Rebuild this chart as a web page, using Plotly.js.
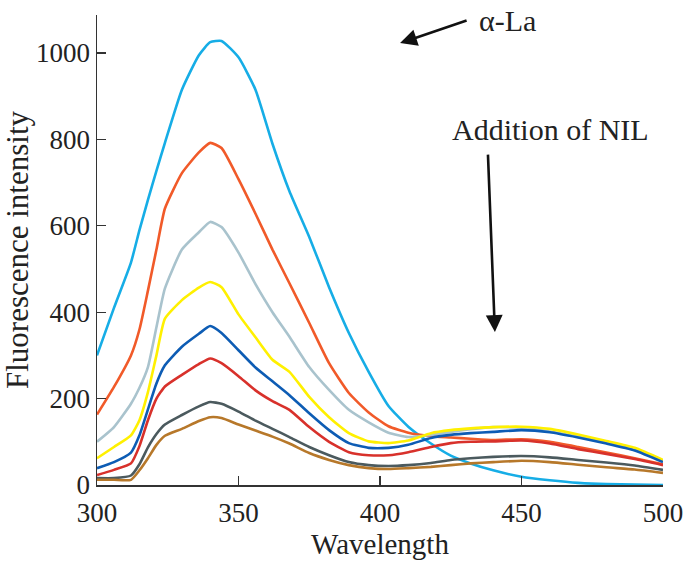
<!DOCTYPE html>
<html>
<head>
<meta charset="utf-8">
<script src="https://cdn.plot.ly/plotly-3.0.1.min.js"></script>
<style>
  html, body { margin: 0; padding: 0; background: #fff; }
  #chart { width: 685px; height: 563px; }
</style>
</head>
<body>
<div id="chart"></div>
<script>
// wavelengths (nm) shared by all spectra
const wavelength = [300, 306, 312, 315, 318, 321, 324, 330, 336, 340, 344, 350, 356, 362, 368, 375, 382, 389, 396, 403, 410, 418, 425, 432, 440, 450, 460, 470, 480, 490, 500];

// alpha-La alone, then increasing NIL
const aLa   = [300, 410, 515, 590, 660, 727, 792, 915, 995, 1025, 1028, 990, 915, 790, 680, 574, 458, 352, 262, 183, 135, 96, 68, 50, 34, 19, 11, 5, 2, 1, 0];
const nil1  = [163, 227, 300, 360, 450, 545, 640, 722, 770, 792, 780, 708, 628, 545, 467, 375, 282, 213, 168, 136, 121, 113, 110, 107, 104, 106, 100, 88, 75, 62, 48];
const nil2  = [100, 134, 188, 225, 273, 365, 455, 545, 585, 609, 597, 538, 465, 400, 343, 273, 220, 174, 145, 121, 111, 116, 123, 129, 134, 132, 124, 112, 98, 82, 56];
const nil3  = [62, 88, 115, 150, 215, 300, 385, 428, 457, 470, 458, 395, 342, 290, 262, 204, 157, 120, 101, 97, 103, 120, 127, 131, 134, 135, 130, 117, 102, 86, 58];
const nil4  = [39, 53, 75, 115, 175, 235, 277, 320, 350, 368, 352, 312, 272, 240, 208, 166, 127, 97, 86, 86, 93, 109, 116, 120, 123, 127, 122, 110, 96, 80, 53];
const nil5  = [23, 35, 50, 90, 150, 200, 228, 255, 280, 293, 282, 252, 219, 194, 174, 134, 100, 76, 69, 69, 76, 88, 97, 100, 101, 103, 96, 83, 72, 60, 46];
const nil6  = [16, 16, 22, 48, 87, 118, 140, 162, 182, 192, 188, 170, 149, 130, 111, 88, 69, 53, 46, 44, 46, 51, 58, 62, 65, 67, 64, 58, 52, 45, 35];
const nil7  = [12, 12, 12, 34, 62, 93, 114, 130, 148, 157, 155, 140, 126, 112, 96, 74, 58, 46, 39, 37, 39, 42, 46, 50, 53, 56, 53, 47, 41, 36, 28];

const spectra = [aLa, nil1, nil2, nil3, nil4, nil5, nil6, nil7];
const colors = ['#16ade6', '#f15a29', '#a9c3cd', '#fff000', '#0d5cb4', '#d8312b', '#4b5a5e', '#b7782a'];

const traces = spectra.map((y, i) => ({
  x: wavelength,
  y: y,
  type: 'scatter',
  mode: 'lines',
  line: { color: colors[i], width: 2.6, shape: 'spline', smoothing: 0.5 },
  hoverinfo: 'skip',
}));

const serif = 'Liberation Serif, Times New Roman, serif';

const layout = {
  width: 685,
  height: 563,
  margin: { l: 97, r: 22, t: 15, b: 78 },
  showlegend: false,
  paper_bgcolor: '#fff',
  plot_bgcolor: '#fff',
  font: { family: serif, color: '#222' },
  xaxis: {
    range: [300, 500],
    tickvals: [300, 350, 400, 450, 500],
    ticks: 'inside',
    ticklen: 9,
    tickwidth: 1.3,
    tickcolor: '#333',
    ticklabelstandoff: 3,
    showline: true,
    linecolor: '#333',
    linewidth: 1.5,
    showgrid: false,
    zeroline: false,
    tickfont: { family: serif, size: 27, color: '#222' },
    title: { text: 'Wavelength', font: { family: serif, size: 29, color: '#222' }, standoff: 4 },
  },
  yaxis: {
    range: [0, 1088],
    tickvals: [0, 200, 400, 600, 800, 1000],
    ticks: 'inside',
    ticklen: 9,
    tickwidth: 1.3,
    tickcolor: '#333',
    showline: true,
    linecolor: '#333',
    linewidth: 1.5,
    showgrid: false,
    zeroline: false,
    tickfont: { family: serif, size: 27, color: '#222' },
    title: { text: 'Fluorescence intensity', font: { family: serif, size: 31, color: '#222' }, standoff: 6 },
  },
  annotations: [
    {
      x: 444.9, y: 1076, xref: 'x', yref: 'y',
      text: 'α-La', showarrow: false,
      font: { family: serif, size: 30, color: '#222' },
    },
    {
      x: 407.1, y: 1023, xref: 'x', yref: 'y',
      text: '', showarrow: true, ax: 68, ay: -23,
      arrowhead: 2, arrowsize: 1.3, arrowwidth: 2.6, arrowcolor: '#111',
    },
    {
      x: 460.4, y: 822, xref: 'x', yref: 'y',
      text: 'Addition of NIL', showarrow: false,
      font: { family: serif, size: 30, color: '#222' },
    },
    {
      x: 440.6, y: 354, xref: 'x', yref: 'y',
      text: '', showarrow: true, ax: -7, ay: -179,
      arrowhead: 2, arrowsize: 1.3, arrowwidth: 2.6, arrowcolor: '#111',
    },
  ],
};

Plotly.newPlot('chart', traces, layout, { displayModeBar: false, staticPlot: true });
</script>
</body>
</html>
